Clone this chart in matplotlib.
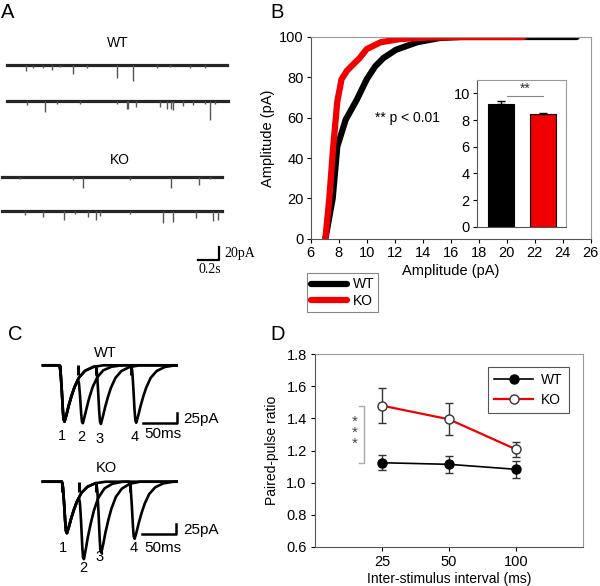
import numpy as np
import matplotlib.pyplot as plt
from matplotlib.lines import Line2D

plt.rcParams['font.family'] = ['Liberation Sans', 'DejaVu Sans']

W, H = 600, 586


def box(left, top, right, bottom):
    # pixel box -> figure fraction rect
    return [left / W, 1 - bottom / H, (right - left) / W, (bottom - top) / H]


def fxy(x, y):
    return x / W, 1 - y / H


# ---------------- data ----------------
# A: spontaneous events, time (s) and amplitude (pA), 2.1 s sweeps
sweep_len = 2.1
wt1_t = [0.184, 0.250, 0.346, 0.429, 0.508, 0.629, 0.765, 1.053, 1.200, 1.431, 1.555, 1.746, 1.889]
wt1_a = [8.6, 3.8, 4.5, 7.5, 3.0, 13.5, 3.8, 19.5, 24.0, 4.5, 3.0, 4.5, 3.8]
wt2_t = [0.185, 0.359, 0.473, 0.692, 1.045, 1.137, 1.152, 1.226, 1.454, 1.518, 1.556, 1.581,
         1.670, 1.766, 1.883, 1.930, 1.978]
wt2_a = [6.0, 16.5, 4.5, 4.5, 4.5, 12.0, 12.0, 9.0, 9.0, 12.0, 12.0, 13.5, 7.5, 6.0, 4.5, 28.5, 4.5]
ko1_t = [0.174, 0.682, 0.771, 1.222, 1.612, 1.881, 1.984]
ko1_a = [3.8, 4.5, 17.4, 4.5, 17.4, 12.5, 3.8]
ko2_t = [0.222, 0.390, 0.593, 0.698, 0.825, 0.898, 0.936, 1.222, 1.539, 1.629, 1.850, 2.015, 2.063]
ko2_a = [6.0, 8.6, 13.5, 4.5, 8.6, 13.5, 7.5, 4.5, 17.6, 16.0, 10.5, 14.6, 13.5]

# B: cumulative amplitude distributions
wt_amp = [7.05, 7.57, 7.9, 8.5, 9.3, 10.0, 10.6, 11.2, 12.1, 13.6, 15.2, 16.7, 20.0, 25.0]
wt_cum = [0, 20, 45.7, 59, 69, 79, 85.4, 89.6, 93.7, 97.4, 99.5, 100, 100, 100]
ko_amp = [7.05, 7.33, 7.6, 7.9, 8.2, 8.6, 9.5, 10.0, 11.0, 12.4, 14.3, 17.0, 21.2]
ko_cum = [0, 20, 45, 68, 79, 83.4, 89.6, 94, 97.4, 99, 99.7, 100, 100]
bar_groups = ['WT', 'KO']
bar_mean = [9.17, 8.42]
bar_sem = [0.25, 0.07]

# C: evoked EPSC template (ms, normalised) and paired-pulse peaks (pA)
tmpl_ms = [0, 1.5, 3, 4.5, 6, 7.5, 10, 13, 17, 22, 29, 38, 50, 65]
tmpl_amp = [0, 0.1, 0.35, 0.7, 0.95, 1.0, 0.9, 0.75, 0.58, 0.4, 0.22, 0.1, 0.03, 0]
wt_stim = [27.6, 54.6, 107.6]
ko_stim = [25.5, 51.6, 101.6]
wt_peak = [141, 145, 147, 144]
ko_peak = [129, 194, 178, 143]

# D: paired-pulse ratio
isi = ['25', '50', '100']
wt_ppr = [1.124, 1.114, 1.083]
wt_sem = [0.048, 0.052, 0.054]
ko_ppr = [1.479, 1.394, 1.207]
ko_sem = [0.108, 0.100, 0.045]

TICK = 10.5
LAB = 10.5

fig = plt.figure(figsize=(6, 5.86), dpi=100)

# panel letters
for lab, x, y in [('A', 8, 12), ('B', 277, 12), ('C', 15, 335), ('D', 278, 335)]:
    fig.text(*fxy(x, y), lab, fontsize=14.5, ha='center', va='center')

# ---------------- A ----------------
axA = fig.add_axes(box(0, 30, 240, 280))
axA.set_xlim(-0.0638, 2.222)
axA.set_ylim(-322.5, 52.5)
axA.axis('off')
sweeps = [(wt1_t, wt1_a, 0.0, 0.0), (wt2_t, wt2_a, 0.006, -53.6),
          (ko1_t, ko1_a, -0.048, -167.6), (ko2_t, ko2_a, -0.048, -219.0)]
for tt, aa, t0, base in sweeps:
    tt = np.array(tt) + t0
    aa = np.array(aa)
    axA.plot([t0, t0 + sweep_len], [base, base], color='#262626', lw=2.3)
    axA.vlines(tt, base, base - aa, color='#555555', lw=1.0)
# scale bar 0.2 s / 20 pA
axA.plot([1.822, 2.022, 2.022], [-292.5, -292.5, -272.5], color='black', lw=1.6)
fig.text(*fxy(224, 254), '20pA', family='Liberation Serif', fontsize=10, va='center')
fig.text(*fxy(210, 269), '0.2s', family='Liberation Serif', fontsize=10, ha='center', va='center')
fig.text(*fxy(118, 43), 'WT', fontsize=10, ha='center', va='center')
fig.text(*fxy(120, 160), 'KO', fontsize=10, ha='center', va='center')

# ---------------- B ----------------
axB = fig.add_axes(box(310.7, 37, 590.7, 238.7))
axB.plot(wt_amp, wt_cum, color='black', lw=4.5, solid_capstyle='round', label='WT')
axB.plot(ko_amp, ko_cum, color='#f00000', lw=4.5, solid_capstyle='round', label='KO')
axB.set_xlim(6, 26)
axB.set_ylim(0, 100)
axB.set_xticks(range(6, 27, 2))
axB.set_yticks(range(0, 101, 20))
axB.set_xlabel('Amplitude (pA)', fontsize=LAB, labelpad=3)
axB.set_ylabel('Amplitude (pA)', fontsize=LAB, labelpad=3)
axB.tick_params(direction='out', length=3, width=0.8, labelsize=TICK, pad=2)
for s in ['left', 'bottom']:
    axB.spines[s].set_color('#555555')
for s in ['top', 'right']:
    axB.spines[s].set_color('#999999')
axB.text(10.6, 60, '** p < 0.01', fontsize=10, va='center')
leg = axB.legend(loc='upper left', bbox_to_anchor=fxy(306.7, 273.3), bbox_transform=fig.transFigure,
                 fontsize=10, frameon=True, fancybox=False, edgecolor='#888888', framealpha=1,
                 handlelength=2.6, handletextpad=0.4, borderpad=0.3, labelspacing=0.15,
                 borderaxespad=0)
leg.get_frame().set_linewidth(0.8)

axI = fig.add_axes(box(476.7, 80, 566, 226.7))
xpos = np.arange(len(bar_groups))
axI.bar(xpos, bar_mean, width=0.62, color=['black', '#f00000'], edgecolor='black', lw=0.8,
        yerr=[[0, 0], bar_sem], error_kw=dict(ecolor='black', elinewidth=1, capsize=3))
axI.set_xlim(-0.583, 1.559)
axI.set_ylim(0, 11)
axI.set_yticks(range(0, 11, 2))
axI.set_xticks([])
axI.tick_params(direction='out', length=3, width=0.8, labelsize=TICK, pad=2)
for s in ['left', 'bottom']:
    axI.spines[s].set_color('#555555')
for s in ['top', 'right']:
    axI.spines[s].set_color('#999999')
axI.plot([0.144, 1.0], [9.8, 9.8], color='#888888', lw=0.8)
axI.text(0.57, 9.8, '**', fontsize=10, ha='center', va='bottom', color='#333333')

# ---------------- C ----------------
axC = fig.add_axes(box(30, 340, 230, 580))
axC.set_xlim(-44.25, 255.75)
axC.set_ylim(-536.75, 63.25)
axC.axis('off')


def epsc(t, t0):
    return np.interp(t - t0, tmpl_ms, tmpl_amp, left=0, right=0)


for stims, peaks, t_shift, base, t_start in [(wt_stim, wt_peak, 0.0, 0.0, -24.75),
                                             (ko_stim, ko_peak, 3.6, -291.0, -25.0)]:
    t = np.arange(t_start, 176, 0.25)
    a1 = peaks[0]
    for k, s in enumerate(stims):
        s2 = t_shift + s
        a2 = peaks[k + 1] - a1 * epsc(s2 + 7.5, t_shift)
        y = base - a1 * epsc(t, t_shift) - a2 * epsc(t, s2)
        axC.plot(t, y, color='black', lw=1.9)
    axC.vlines([t_shift] + [t_shift + s for s in stims], base, base - 25, color='black', lw=2.2)

# scale bars
axC.plot([125.7, 175.7, 175.7], [-143.5, -143.5, -118.5], color='black', lw=1.8)
axC.plot([124.0, 174.0, 174.0], [-421.8, -421.8, -396.8], color='black', lw=1.8)

for x, y, s in [(105, 353, 'WT'), (106, 468, 'KO')]:
    fig.text(*fxy(x, y), s, fontsize=10.5, ha='center', va='center')
for x, y, s in [(61.7, 436, '1'), (81.7, 437.3, '2'), (100, 439.3, '3'), (135, 436.7, '4'),
                (63.3, 548.3, '1'), (83.3, 568.3, '2'), (100, 556.7, '3'), (133.3, 548.3, '4')]:
    fig.text(*fxy(x, y), s, fontsize=10.5, ha='center', va='center')
for y1, y2 in [(419, 434), (530, 547.5)]:
    fig.text(*fxy(183, y1), '25pA', fontsize=11, va='center')
    fig.text(*fxy(163, y2), '50ms', fontsize=11, ha='center', va='center')

# ---------------- D ----------------
axD = fig.add_axes(box(315, 354, 583, 547))
pos = np.arange(1, len(isi) + 1)
axD.errorbar(pos, wt_ppr, yerr=wt_sem, color='black', lw=1.2, marker='o', ms=6.5, mfc='black',
             mec='black', ecolor='#333333', elinewidth=1, capsize=3, label='WT', zorder=3)
axD.errorbar(pos, ko_ppr, yerr=ko_sem, color='#f00000', lw=1.6, marker='o', ms=6.5, mfc='white',
             mec='#333333', ecolor='#333333', elinewidth=1, capsize=3, label='KO', zorder=3)
axD.set_xlim(0, 4)
axD.set_ylim(0.6, 1.8)
axD.set_xticks(pos)
axD.set_xticklabels(isi)
axD.set_yticks(np.arange(0.6, 1.81, 0.2))
axD.set_yticklabels(['0.6', '0.8', '1.0', '1.2', '1.4', '1.6', '1.8'])
axD.tick_params(direction='out', length=3, width=0.8, labelsize=TICK, pad=3)
axD.set_xlabel('Inter-stimulus interval (ms)', fontsize=10, labelpad=2)
axD.set_ylabel('Paired-pulse ratio', fontsize=10, labelpad=5)
for s in ['left', 'bottom']:
    axD.spines[s].set_color('#555555')
for s in ['top', 'right']:
    axD.spines[s].set_color('#999999')
# significance bracket at 25 ms
bx = 0.731
axD.plot([bx - 0.07, bx, bx, bx - 0.07], [ko_ppr[0], ko_ppr[0], wt_ppr[0], wt_ppr[0]],
         color='#aaaaaa', lw=1)
axD.text(0.597, 1.31, '*\n*\n*', fontsize=11, ha='center', va='center', color='#444444',
         linespacing=0.75)
hD = [Line2D([], [], color='black', lw=1.2, marker='o', ms=6.5, mfc='black', mec='black'),
      Line2D([], [], color='#f00000', lw=1.6, marker='o', ms=6.5, mfc='white', mec='#333333')]
legD = axD.legend(hD, ['WT', 'KO'], loc='upper left', bbox_to_anchor=fxy(488, 367),
                  bbox_transform=fig.transFigure, fontsize=10, frameon=True, fancybox=False,
                  edgecolor='#555555', framealpha=1, handlelength=2.8, handletextpad=0.55,
                  borderpad=0.45, labelspacing=0.4, borderaxespad=0)
legD.get_frame().set_linewidth(0.8)

fig.savefig('out.png', dpi=100, facecolor='white')
